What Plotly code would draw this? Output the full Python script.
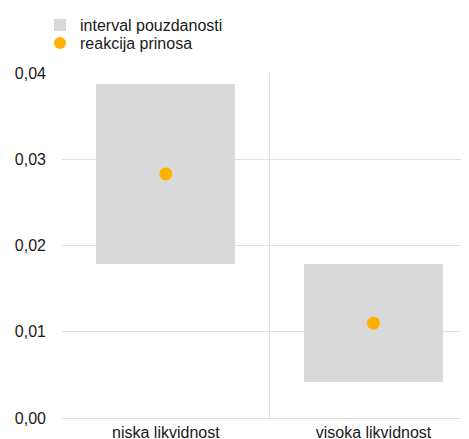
import plotly.graph_objects as go

categories = ['niska likvidnost', 'visoka likvidnost']
interval_low = [0.0178, 0.0042]
interval_high = [0.0387, 0.0178]
response = [0.0283, 0.0110]

GRID = '#e0e0e0'
FONT = 'Liberation Sans, Arial, sans-serif'

# the page body has an 8px margin, so the figure is shrunk by that much
W, H = 461, 431

fig = go.Figure()
fig.add_trace(go.Bar(
    x=categories,
    y=[h - l for h, l in zip(interval_high, interval_low)],
    base=interval_low,
    width=0.67,
    marker=dict(color='#d9d9d9', line=dict(width=0)),
    name='interval pouzdanosti',
    legend='legend',
))
fig.add_trace(go.Scatter(
    x=categories,
    y=response,
    mode='markers',
    marker=dict(color='#ffb000', size=13),
    name='reakcija prinosa',
    legend='legend2',
))

leg = dict(xref='container', yref='container', xanchor='left', yanchor='top',
           bgcolor='rgba(0,0,0,0)', font=dict(size=16), itemsizing='constant')
fig.update_layout(
    width=W, height=H,
    margin=dict(l=54, r=0, t=65, b=21, autoexpand=False),
    plot_bgcolor='white', paper_bgcolor='white',
    separators=',.',
    font=dict(family=FONT, size=16, color='#1a1a1a'),
    showlegend=True,
    legend=dict(leg, x=32 / W, y=1 + 4 / H),
    legend2=dict(leg, x=32 / W, y=1 - 18 / H),
    bargap=0,
)
fig.update_yaxes(range=[0, 0.04], dtick=0.01, tickformat='.2f',
                 showgrid=True, gridcolor=GRID, gridwidth=1,
                 zeroline=False, showline=False, ticks='',
                 ticklabelstandoff=15, automargin=False)
fig.update_xaxes(range=[-0.5, 1.46], type='category',
                 tickson='boundaries', showgrid=True, gridcolor=GRID,
                 showline=True, linecolor=GRID, ticks='', ticklen=0,
                 ticklabelstandoff=0, automargin=False)

fig.write_html("out.html")
